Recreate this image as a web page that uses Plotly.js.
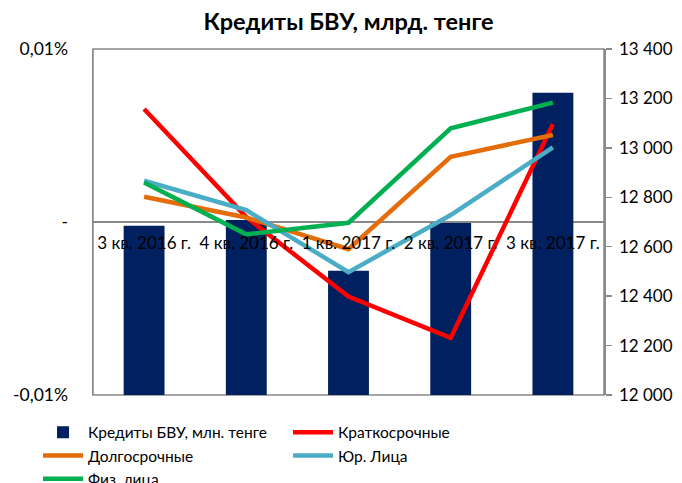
<!DOCTYPE html>
<html><head><meta charset="utf-8">
<script src="https://cdn.plot.ly/plotly-3.0.1.min.js"></script>
<style>html,body{margin:0;padding:0;background:#fff}#chart{width:682px;height:483px}</style>
</head><body><div id="chart"></div>
<script>
const categories = ['3 кв. 2016 г.', '4 кв. 2016 г.', '1 кв. 2017 г.', '2 кв. 2017 г.', '3 кв. 2017 г.'];
const loans = [12685, 12708, 12503, 12696, 13223];
const shortTerm = [13157, 12720, 12398, 12231, 13096];
const longTerm = [12802, 12718, 12590, 12964, 13052];
const legalEntities = [12867, 12748, 12497, 12728, 13002];
const individuals = [12860, 12650, 12697, 13079, 13183];
const leftTickVals = [-0.0001, 0, 0.0001];
const leftTickText = ['-0,01%', '-', '0,01%'];
const rightTickVals = [12000, 12200, 12400, 12600, 12800, 13000, 13200, 13400];
const rightTickText = ['12 000', '12 200', '12 400', '12 600', '12 800', '13 000', '13 200', '13 400'];
const loanBase = 12000;

const FONT = 'Lato, "Open Sans", sans-serif';
function line(name, y, color) {
  return {type: 'scatter', mode: 'lines', name: name, x: categories, y: y, yaxis: 'y',
    line: {color: color, width: 4.5}, hoverinfo: 'skip'};
}
const traces = [
  {type: 'bar', name: 'Кредиты БВУ, млн. тенге', x: categories, y: loans.map(v => v - loanBase), base: loanBase,
   yaxis: 'y', marker: {color: '#002060'}, width: 0.4},
  line('Краткосрочные', shortTerm, '#FF0000'),
  line('Долгосрочные', longTerm, '#E46C0A'),
  line('Юр. Лица', legalEntities, '#4BACC6'),
  line('Физ. лица', individuals, '#00B050'),
  {type: 'scatter', mode: 'lines', x: [], y: [], yaxis: 'y2', showlegend: false, hoverinfo: 'skip'}
];

const layout = {
  width: 682, height: 483,
  margin: {l: 93, r: 78, t: 49, b: 88, autoexpand: false},
  paper_bgcolor: '#fff', plot_bgcolor: '#fff',
  font: {family: FONT, size: 17, color: '#000'},
  title: {text: '<b>Кредиты БВУ, млрд. тенге</b>', x: 0.5, xref: 'paper', y: 1 - 22/483, yref: 'container', yanchor: 'middle',
    font: {family: FONT, size: 23.5, color: '#000'}},
  xaxis: {anchor: 'free', position: 0.5, showline: false, ticks: '', tickangle: 0, ticklabelstandoff: 9,
    showgrid: false, zeroline: false, tickfont: {family: FONT, size: 17, color: '#000'}},
  yaxis: {side: 'right', range: [12000, 13400], tickvals: rightTickVals, ticktext: rightTickText,
    showgrid: false, zeroline: false, showline: true, linecolor: '#898989', linewidth: 1.5,
    ticks: 'outside', ticklen: 6, tickcolor: '#898989', tickwidth: 1.5, ticklabelstandoff: 4,
    tickfont: {family: FONT, size: 17, color: '#000'}},
  yaxis2: {side: 'left', overlaying: 'y', range: [-0.0001, 0.0001], tickvals: leftTickVals, ticktext: leftTickText,
    showgrid: false, zeroline: true, zerolinecolor: '#898989', zerolinewidth: 1.5,
    showline: true, linecolor: '#898989', linewidth: 1.5,
    ticks: 'outside', ticklen: 20, tickcolor: 'rgba(0,0,0,0)',
    tickfont: {family: FONT, size: 17.5, color: '#000'}},
  shapes: [{type: 'rect', xref: 'paper', yref: 'paper', x0: 0, x1: 1, y0: 0, y1: 1,
    line: {color: '#898989', width: 1.5}, layer: 'below'}],
  showlegend: true,
  legend: {orientation: 'h', x: -0.1076, xanchor: 'left', y: -0.060, yanchor: 'top',
    entrywidth: 195, entrywidthmode: 'pixels', traceorder: 'normal',
    font: {family: FONT, size: 15.5, color: '#000'}, tracegroupgap: 0, itemwidth: 40}
};
Plotly.newPlot('chart', traces, layout, {displayModeBar: false, staticPlot: true});
</script></body></html>
